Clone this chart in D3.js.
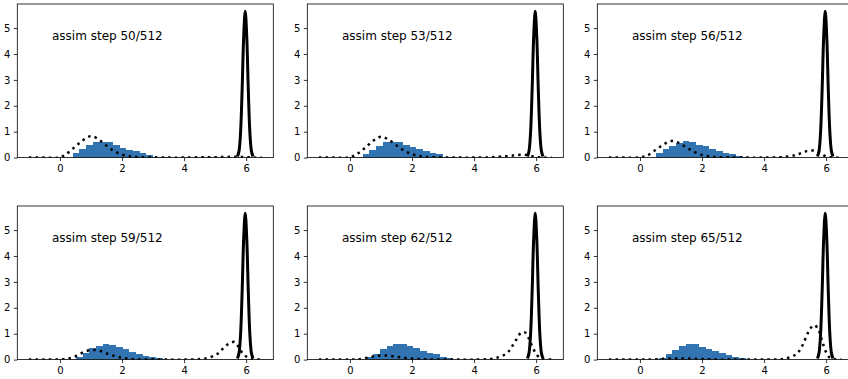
<!DOCTYPE html>
<html>
<head>
<meta charset="utf-8">
<script src="https://cdn.jsdelivr.net/npm/d3@7/dist/d3.min.js"></script>
<style>
  html, body { margin: 0; padding: 0; background: #fff; }
  svg { display: block; }
  text { font-family: "DejaVu Sans", sans-serif; }
</style>
</head>
<body>
<div id="chart"></div>
<script>
// ---------- data ----------
const steps = [50, 53, 56, 59, 62, 65];
const totalSteps = 512;
const xTicks = [0, 2, 4, 6];
const yTicks = [0, 1, 2, 3, 4, 5];
const xDomain = [-1.375, 6.875];
const yDomain = [0, 5.93];

// histogram: first bin edge, bin width, bin heights (density)
const histStart = [0.41, 0.41, 0.52, 0.52, 0.54, 0.61];
const histWidth = [0.216, 0.216, 0.215, 0.215, 0.215, 0.215];
const hist50 = [0.18, 0.32, 0.48, 0.61, 0.61, 0.59, 0.48, 0.37, 0.30, 0.24, 0.18, 0.09, 0.04, 0.03];
const hist53 = [0.13, 0.28, 0.44, 0.59, 0.59, 0.59, 0.48, 0.40, 0.32, 0.24, 0.17, 0.12, 0.03, 0.03];
const hist56 = [0.18, 0.32, 0.44, 0.57, 0.63, 0.59, 0.50, 0.43, 0.34, 0.26, 0.18, 0.13, 0.08, 0.04];
const hist59 = [0.10, 0.27, 0.43, 0.54, 0.62, 0.57, 0.49, 0.41, 0.31, 0.22, 0.14, 0.10, 0.05];
const hist62 = [0.10, 0.23, 0.39, 0.54, 0.62, 0.62, 0.52, 0.43, 0.32, 0.26, 0.22, 0.10, 0.05];
const hist65 = [0.08, 0.21, 0.38, 0.53, 0.60, 0.60, 0.50, 0.42, 0.32, 0.25, 0.19, 0.11, 0.05];

// dotted density curve: shared x grid and values per panel
const dotX = [-1, -0.5, 0, 0.25, 0.5, 0.75, 1.0, 1.25, 1.5, 1.75, 2.0, 2.25, 2.5, 3.0, 3.5, 4.0, 4.5, 4.75, 5.0, 5.125, 5.25, 5.375, 5.5, 5.625, 5.75, 5.875, 6.0, 6.125, 6.25, 6.5];
const dot50 = [0, 0, 0.01, 0.18, 0.43, 0.68, 0.83, 0.70, 0.46, 0.25, 0.11, 0.05, 0.02, 0.01, 0, 0, 0.01, 0.01, 0.01, 0.02, 0.02, 0.02, 0.03, 0.03, 0.02, 0.02, 0.01, 0.01, 0, 0];
const dot53 = [0, 0, 0.01, 0.16, 0.39, 0.65, 0.81, 0.69, 0.47, 0.27, 0.13, 0.06, 0.02, 0.01, 0, 0, 0.01, 0.03, 0.05, 0.06, 0.08, 0.10, 0.11, 0.11, 0.09, 0.05, 0.02, 0.01, 0, 0];
const dot56 = [0, 0, 0.01, 0.09, 0.29, 0.50, 0.64, 0.57, 0.39, 0.22, 0.10, 0.04, 0.02, 0.01, 0, 0, 0.01, 0.04, 0.09, 0.14, 0.20, 0.25, 0.27, 0.27, 0.22, 0.12, 0.04, 0.01, 0, 0];
const dot59 = [0, 0, 0.01, 0.03, 0.13, 0.28, 0.37, 0.35, 0.24, 0.14, 0.07, 0.03, 0.01, 0.01, 0, 0, 0.02, 0.06, 0.17, 0.27, 0.42, 0.56, 0.65, 0.68, 0.50, 0.26, 0.12, 0.04, 0.01, 0];
const dot62 = [0, 0, 0, 0.01, 0.06, 0.12, 0.16, 0.15, 0.11, 0.07, 0.04, 0.02, 0.01, 0, 0, 0, 0.02, 0.08, 0.20, 0.33, 0.56, 0.80, 1.02, 1.06, 0.85, 0.50, 0.22, 0.06, 0.01, 0];
const dot65 = [0, 0, 0, 0, 0.01, 0.03, 0.04, 0.04, 0.04, 0.03, 0.02, 0.01, 0, 0, 0, 0, 0.01, 0.06, 0.18, 0.32, 0.58, 0.93, 1.22, 1.33, 1.15, 0.70, 0.28, 0.07, 0.01, 0];

// solid narrow density (same in every panel)
const peakX = [5.72, 5.77, 5.82, 5.87, 5.92, 5.97, 6.02, 6.07, 6.12, 6.17, 6.22];
const peakY = [0.04, 0.25, 0.97, 2.6, 4.65, 5.65, 4.65, 2.6, 0.97, 0.25, 0.04];

const hists = [hist50, hist53, hist56, hist59, hist62, hist65];
const dots = [dot50, dot53, dot56, dot59, dot62, dot65];

// ---------- layout ----------
const W = 848, H = 379;
const colLeft = [17.3, 307.3, 597.3];
const rowTop = [4, 206];
const pw = 256, ph = 153.6;

const svg = d3.select("#chart").append("svg")
  .attr("width", W).attr("height", H)
  .attr("viewBox", `0 0 ${W} ${H}`);

const x = d3.scaleLinear().domain(xDomain).range([0, pw]);
const y = d3.scaleLinear().domain(yDomain).range([ph, 0]);

const defs = svg.append("defs");
defs.append("clipPath").attr("id", "axclip")
  .append("rect").attr("x", 0).attr("y", 0).attr("width", pw).attr("height", ph);

const line = d3.line()
  .x(d => x(d[0])).y(d => y(d[1]))
  .curve(d3.curveCatmullRom.alpha(0.5));

steps.forEach((s, i) => {
  const col = i % 3, row = Math.floor(i / 3);
  const g = svg.append("g").attr("transform", `translate(${colLeft[col]},${rowTop[row]})`);
  const plot = g.append("g").attr("clip-path", "url(#axclip)");

  // histogram bars
  const heights = hists[i];
  plot.selectAll("rect.bar").data(heights).enter().append("rect")
    .attr("class", "bar")
    .attr("x", (d, k) => x(histStart[i] + k * histWidth[i]))
    .attr("width", (d, k) => x(histStart[i] + (k + 1) * histWidth[i]) - x(histStart[i] + k * histWidth[i]))
    .attr("y", d => y(d))
    .attr("height", d => y(0) - y(d))
    .attr("fill", "#3274b1")
    .attr("shape-rendering", "crispEdges");

  // dotted curve
  const dd = dotX.map((xv, k) => [xv, dots[i][k]]);
  plot.append("path").datum(dd)
    .attr("d", line)
    .attr("fill", "none")
    .attr("stroke", "#000")
    .attr("stroke-width", 2.5)
    .attr("stroke-dasharray", "2.5,4.1");

  // solid narrow peak
  const pp = peakX.map((xv, k) => [xv, peakY[k]]);
  plot.append("path").datum(pp)
    .attr("d", line)
    .attr("fill", "none")
    .attr("stroke", "#000")
    .attr("stroke-width", 3)
    .attr("stroke-linejoin", "round");

  // axes
  const xa = g.append("g").attr("transform", `translate(0,${ph})`)
    .call(d3.axisBottom(x).tickValues(xTicks).tickFormat(d3.format("d")).tickSize(3.5).tickPadding(3.5).tickSizeOuter(0));
  const ya = g.append("g")
    .call(d3.axisLeft(y).tickValues(yTicks).tickFormat(d3.format("d")).tickSize(3.5).tickPadding(3.5).tickSizeOuter(0));
  [xa, ya].forEach(a => {
    a.select(".domain").remove();
    a.selectAll(".tick line").attr("stroke", "#000").attr("stroke-width", 0.8);
    a.selectAll(".tick text").attr("fill", "#000").style("font-size", "10px")
      .style("font-family", "'DejaVu Sans', sans-serif");
  });

  // spines
  g.append("rect").attr("x", 0).attr("y", 0).attr("width", pw).attr("height", ph)
    .attr("fill", "none").attr("stroke", "#000").attr("stroke-width", 0.8);

  // label
  g.append("text")
    .attr("x", 34.7).attr("y", 35.8)
    .attr("fill", "#000")
    .style("font-size", "12px")
    .text(`assim step ${s}/${totalSteps}`);
});
</script>
</body>
</html>
